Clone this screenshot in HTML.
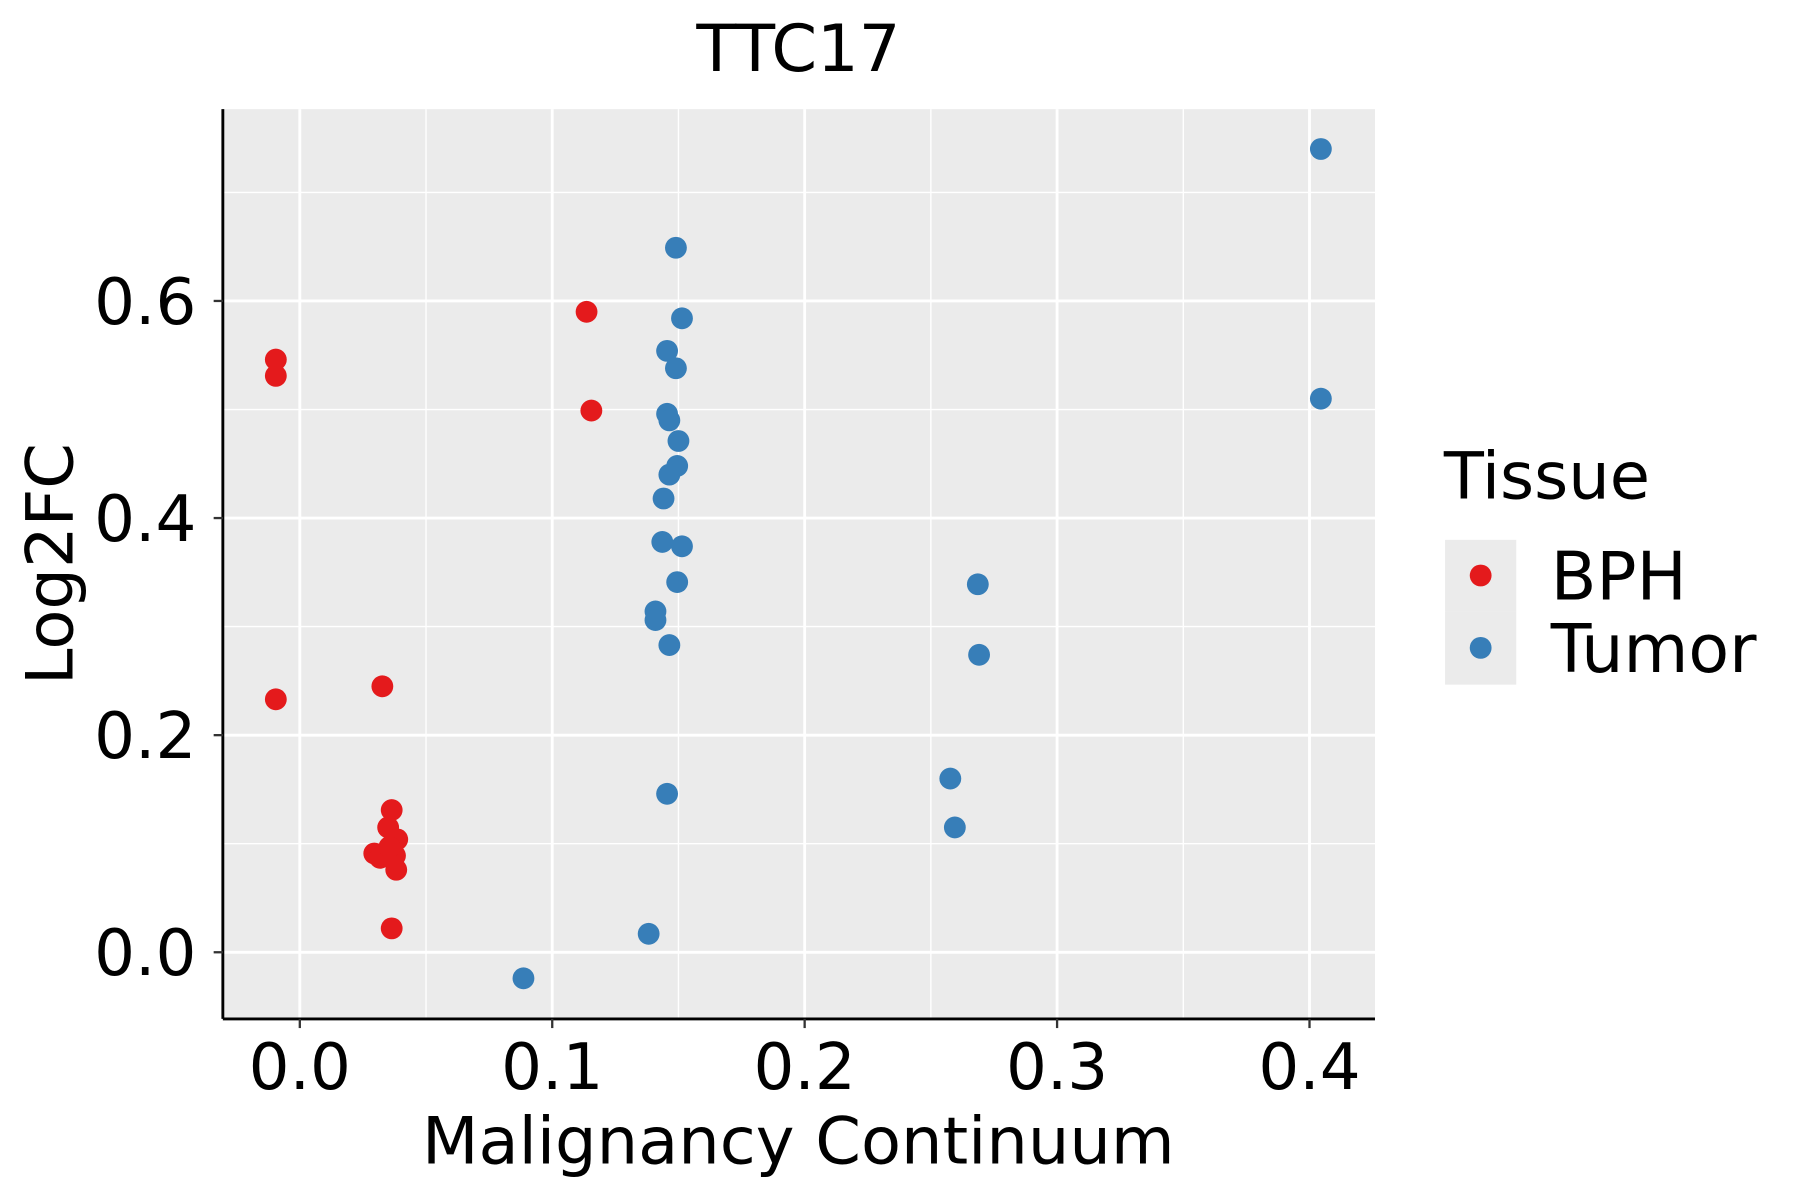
<!DOCTYPE html>
<html><head><meta charset="utf-8"><style>html,body{margin:0;padding:0;background:#fff}svg{display:block}text{font-family:"DejaVu Sans","Liberation Sans",sans-serif;fill:#000}</style></head>
<body>
<svg id="chart" width="1800" height="1200" viewBox="0 0 1567 1044.67" preserveAspectRatio="none" xmlns="http://www.w3.org/2000/svg">
<rect x="194" y="95" width="1003" height="792" fill="#ebebeb"/>
<g id="grid"></g>
<g id="points"></g>
<line x1="194" y1="95" x2="194" y2="887" stroke="#000" stroke-width="2.5"/>
<line x1="194" y1="887" x2="1197" y2="887" stroke="#000" stroke-width="2.5"/>
<g id="ticks"></g>
<text x="695" y="62" font-size="57" text-anchor="middle">TTC17</text>
<text x="695" y="1013" font-size="57" text-anchor="middle">Malignancy Continuum</text>
<text transform="translate(63,491) rotate(-90)" font-size="57" text-anchor="middle">Log2FC</text>
<g>
<text x="1257" y="434" font-size="57">Tissue</text>
<rect x="1258" y="470" width="62" height="62" fill="#ebebeb"/>
<rect x="1258" y="532" width="62" height="64" fill="#ebebeb"/>
<circle cx="1289" cy="501" r="9.5" fill="#e41a1c"/>
<circle cx="1289" cy="564" r="9.5" fill="#377eb8"/>
<text x="1350" y="522" font-size="58">BPH</text>
<text x="1350" y="585" font-size="58">Tumor</text>
</g>
</svg>
<script>
const xTicks = [0.0, 0.1, 0.2, 0.3, 0.4];
const xTickLabels = ["0.0", "0.1", "0.2", "0.3", "0.4"];
const xMinor = [0.05, 0.15, 0.25, 0.35];
const yTicks = [0.0, 0.2, 0.4, 0.6];
const yTickLabels = ["0.0", "0.2", "0.4", "0.6"];
const yMinor = [0.1, 0.3, 0.5, 0.7];
const bphX = [-0.0095, -0.0095, -0.0095, 0.1136, 0.1155, 0.0327, 0.0364, 0.035, 0.0386, 0.0295, 0.0318, 0.0377, 0.0355, 0.0382, 0.0364];
const bphY = [0.546, 0.531, 0.233, 0.590, 0.499, 0.245, 0.131, 0.115, 0.104, 0.091, 0.087, 0.089, 0.097, 0.076, 0.022];
const tumorX = [0.4045, 0.4045, 0.149, 0.1514, 0.1455, 0.149, 0.1455, 0.1464, 0.15, 0.1495, 0.1464, 0.1441, 0.1436, 0.1514, 0.1495, 0.1409, 0.1409, 0.1464, 0.2686, 0.2691, 0.2577, 0.2595, 0.1455, 0.1382, 0.0886];
const tumorY = [0.740, 0.510, 0.649, 0.584, 0.554, 0.538, 0.496, 0.490, 0.471, 0.448, 0.440, 0.418, 0.378, 0.374, 0.341, 0.314, 0.306, 0.283, 0.339, 0.274, 0.160, 0.115, 0.146, 0.017, -0.024];

const NS = "http://www.w3.org/2000/svg";
function xs(v){ return 261 + v * 2197.5; }
function ys(v){ return 829 - v * 945; }
function mk(tag, attrs, parent){
  const e = document.createElementNS(NS, tag);
  for (const k in attrs) e.setAttribute(k, attrs[k]);
  parent.appendChild(e);
  return e;
}
const grid = document.getElementById('grid');
const ticks = document.getElementById('ticks');
const pts = document.getElementById('points');
xMinor.forEach(v => {
  const l = mk('line', {x1: xs(v), x2: xs(v), y1: 95, y2: 887, stroke: '#fff', 'stroke-width': 1.2}, grid);
  
  
});
yMinor.forEach(v => {
  const l = mk('line', {x1: 194, x2: 1197, y1: ys(v), y2: ys(v), stroke: '#fff', 'stroke-width': 1.2}, grid);
  
  
});
xTicks.forEach((v, i) => {
  const l = mk('line', {x1: xs(v), x2: xs(v), y1: 95, y2: 887, stroke: '#fff', 'stroke-width': 2.5}, grid);
  
  
  const t = mk('line', {x1: xs(v), x2: xs(v), y1: 887, y2: 895, stroke: '#333', 'stroke-width': 2}, ticks);
  
  
  const tx = mk('text', {x: xs(v), y: 948, 'font-size': 56, 'text-anchor': 'middle'}, ticks);
  tx.textContent = xTickLabels[i];
  
  
});
yTicks.forEach((v, i) => {
  const l = mk('line', {x1: 194, x2: 1197, y1: ys(v), y2: ys(v), stroke: '#fff', 'stroke-width': 2.5}, grid);
  
  
  const t = mk('line', {x1: 186, x2: 194, y1: ys(v), y2: ys(v), stroke: '#333', 'stroke-width': 2}, ticks);
  
  
  const tx = mk('text', {x: 171, y: ys(v) + 20, 'font-size': 56, 'text-anchor': 'end'}, ticks);
  tx.textContent = yTickLabels[i];
  
  
});
bphX.forEach((v, i) => {
  const c = mk('circle', {cx: xs(v), cy: ys(bphY[i]), r: 9.5, fill: '#e41a1c'}, pts);
  
  
});
tumorX.forEach((v, i) => {
  const c = mk('circle', {cx: xs(v), cy: ys(tumorY[i]), r: 9.5, fill: '#377eb8'}, pts);
  
  
});
</script>
</body></html>
